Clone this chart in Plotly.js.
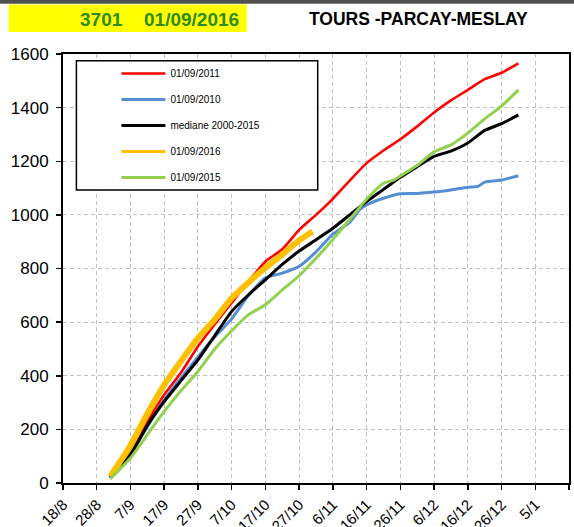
<!DOCTYPE html>
<html>
<head>
<meta charset="utf-8">
<script src="https://cdn.plot.ly/plotly-3.0.1.min.js"></script>
<style>html,body{margin:0;padding:0;background:#fff;}</style>
</head>
<body>
<div id="chart" style="width:574px;height:527px;"></div>
<script>
// Dates (season mapped onto 2016-2017)
const dates = ['2016-09-01','2016-09-07','2016-09-12','2016-09-17','2016-09-22','2016-09-27',
  '2016-10-02','2016-10-07','2016-10-12','2016-10-17','2016-10-22','2016-10-27',
  '2016-11-01','2016-11-06','2016-11-11','2016-11-16','2016-11-21','2016-11-26',
  '2016-12-01','2016-12-06','2016-12-11','2016-12-16','2016-12-21','2016-12-26','2016-12-31'];

const datesBlue = ['2016-09-01','2016-09-07','2016-09-12','2016-09-17','2016-09-22','2016-09-27',
  '2016-10-02','2016-10-07','2016-10-12','2016-10-17','2016-10-22','2016-10-27',
  '2016-11-01','2016-11-06','2016-11-11','2016-11-14','2016-11-16','2016-11-21','2016-11-26',
  '2016-12-01','2016-12-06','2016-12-11','2016-12-16','2016-12-19','2016-12-21','2016-12-26','2016-12-31'];

const datesGreen = ['2016-09-01','2016-09-07','2016-09-12','2016-09-17','2016-09-22','2016-09-27',
  '2016-10-02','2016-10-07','2016-10-12','2016-10-17','2016-10-22','2016-10-27',
  '2016-11-01','2016-11-06','2016-11-11','2016-11-16','2016-11-21','2016-11-24','2016-11-26',
  '2016-12-01','2016-12-06','2016-12-11','2016-12-16','2016-12-21','2016-12-26','2016-12-31'];

const datesOrange = ['2016-09-01','2016-09-07','2016-09-12','2016-09-17','2016-09-22','2016-09-27',
  '2016-10-02','2016-10-07','2016-10-12','2016-10-17','2016-10-22','2016-10-27','2016-10-31'];

const names = ['01/09/2011','01/09/2010','mediane 2000-2015','01/09/2016','01/09/2015'];

const red2011 = [20,118,228,329,412,509,592,672,752,826,872,944,1000,1060,1128,1193,1240,1282,1330,1382,1427,1466,1506,1530,1565];
const blue2010 = [20,108,210,310,392,470,545,612,700,765,783,808,862,928,972,1020,1037,1062,1079,1080,1085,1093,1103,1106,1122,1130,1146];
const median = [20,105,215,304,382,459,550,640,702,758,815,865,907,950,1000,1050,1095,1140,1180,1218,1238,1268,1315,1340,1373];
const orange2016 = [25,140,258,366,455,540,610,690,748,803,852,905,938];
const green2015 = [15,93,180,267,345,416,500,568,628,665,720,773,838,908,983,1058,1118,1130,1145,1185,1235,1261,1305,1358,1406,1466];

const colors = ['#FF0000','#558ED5','#000000','#FFC000','#92D050'];
const widths = [2.6,3,3,6,3];
const legendWidths = [2.6,3,3,3,3];
const xs = [dates, datesBlue, dates, datesOrange, datesGreen];
const ys = [red2011, blue2010, median, orange2016, green2015];

const traces = [];
names.forEach((n,i)=>{
  // data line (drawn from the arrays)
  traces.push({
    type:'scatter', mode:'lines', name:n, x:xs[i], y:ys[i],
    line:{color:colors[i], width:widths[i], shape:'spline', smoothing:0.5},
    legendgroup:'g'+i, showlegend:false, hoverinfo:'skip'
  });
  // legend entry (no data points, legend swatch only)
  traces.push({
    type:'scatter', mode:'lines', name:n, x:[null], y:[null],
    line:{color:colors[i], width:legendWidths[i]},
    legendgroup:'g'+i, showlegend:true, hoverinfo:'skip'
  });
});

const L = 63.3, R = 569.3, T = 54, B = 483.3;
const px = x => (x - L)/(R - L);
const py = y => (B - y)/(B - T);

const layout = {
  width:574, height:527,
  margin:{l:63, r:5, t:54, b:44, pad:0},
  paper_bgcolor:'#ffffff', plot_bgcolor:'#ffffff',
  font:{family:'Liberation Sans, Arial, sans-serif', color:'#000000'},
  showlegend:true,
  legend:{x:px(116.7), y:py(59), xanchor:'left', yanchor:'top', bgcolor:'rgba(0,0,0,0)',
    borderwidth:0, font:{size:10, color:'#000000'}, itemwidth:44, tracegroupgap:7, traceorder:'grouped'},
  xaxis:{type:'date', range:['2016-08-18','2017-01-15'], tick0:'2016-08-18', dtick:864000000,
    tickformat:'%-d/%-m', tickangle:-45, showgrid:true, gridcolor:'#C0C0C0', griddash:'4px,3px', gridwidth:1,
    showline:true, linecolor:'#000000', linewidth:2, mirror:true, ticks:'outside', ticklen:5, tickcolor:'#000000',
    tickwidth:1.5, tickfont:{size:15, color:'#000000'}, zeroline:false, fixedrange:true},
  yaxis:{range:[0,1600], tick0:0, dtick:200, showgrid:true, gridcolor:'#C0C0C0', griddash:'4px,3px', gridwidth:1,
    showline:true, linecolor:'#000000', linewidth:2, mirror:true, ticks:'outside', ticklen:5, tickcolor:'#000000',
    tickwidth:1.5, tickfont:{size:17, color:'#000000'}, ticklabelstandoff:4, zeroline:false, fixedrange:true},
  shapes:[
    {type:'rect', xref:'paper', yref:'paper', x0:-0.2, x1:1.05, y0:py(3.7), y1:py(-2), fillcolor:'#505050', line:{width:0}, layer:'above'},
    {type:'rect', xref:'paper', yref:'paper', x0:px(9), x1:px(247), y0:py(32), y1:py(4.4), fillcolor:'#FFFF00', line:{width:0}, layer:'above'},
    {type:'rect', xref:'paper', yref:'paper', x0:px(76.7), x1:px(318), y0:py(190), y1:py(60.7), fillcolor:'#ffffff', line:{color:'#000000', width:1.5}, layer:'above'}
  ],
  annotations:[
    {text:'<b>3701</b>', xref:'paper', yref:'paper', x:px(78), y:py(19), xanchor:'left', yanchor:'middle', showarrow:false, font:{size:19, color:'#2E8B22'}},
    {text:'<b>01/09/2016</b>', xref:'paper', yref:'paper', x:px(241), y:py(19), xanchor:'right', yanchor:'middle', showarrow:false, font:{size:19, color:'#2E8B22'}},
    {text:'<b>TOURS -PARCAY-MESLAY</b>', xref:'paper', yref:'paper', x:px(419), y:py(19), xanchor:'center', yanchor:'middle', showarrow:false, font:{size:17.5, color:'#000000'}}
  ]
};

Plotly.newPlot('chart', traces, layout, {displayModeBar:false, staticPlot:true});
</script>
</body>
</html>
